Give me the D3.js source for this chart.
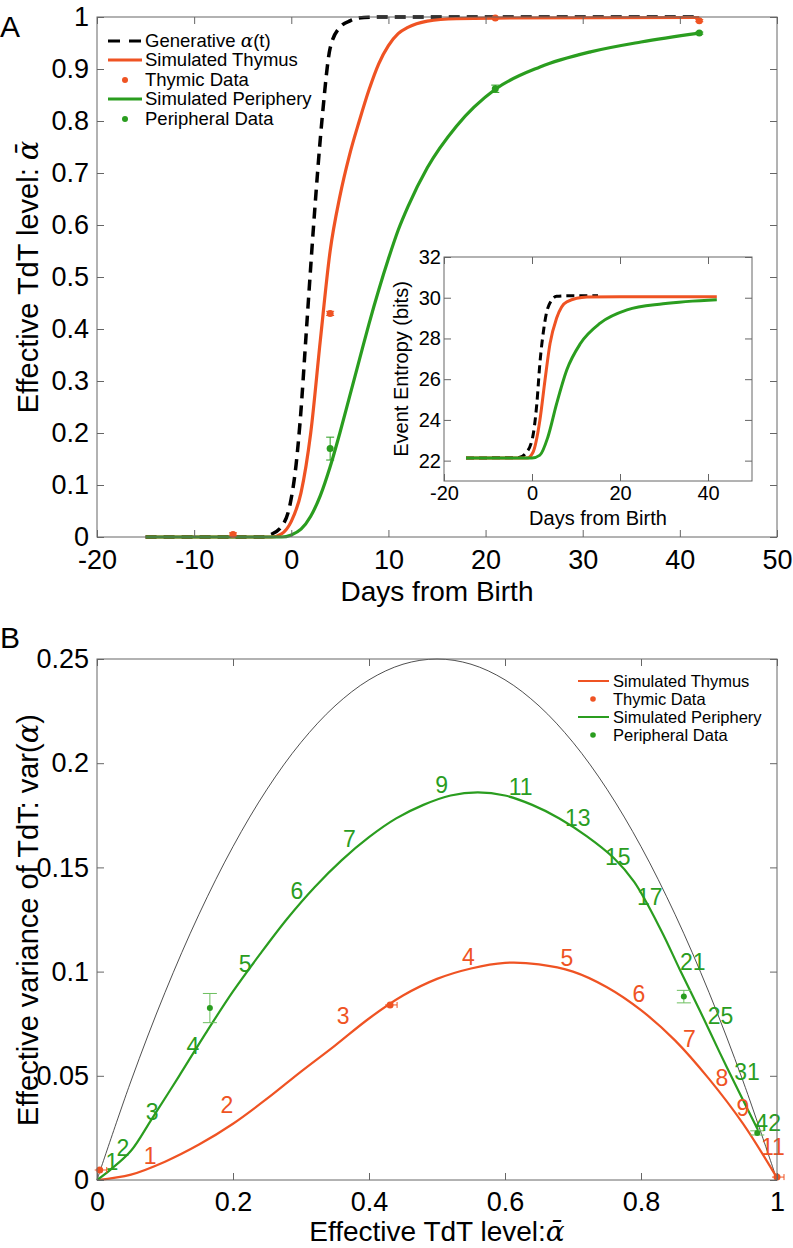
<!DOCTYPE html>
<html>
<head>
<meta charset="utf-8">
<script src="https://cdn.jsdelivr.net/npm/d3@7"></script>
<style>
body { margin: 0; background: #fff; }
text { font-family: "Liberation Sans", Arial, Helvetica, sans-serif; }
</style>
</head>
<body>
<svg id="fig" width="793" height="1248"></svg>
<script>
// ---------- panel A : TdT level vs days ----------
var genDays  = [-15, -3, -2.2, -1, -0.1, 0.5, 0.9, 1.6, 2.3, 3.2, 4.0, 5.0, 6.1, 7.5, 10, 15, 42];
var genAlpha = [0, 0, 0.004, 0.02, 0.065, 0.14, 0.22, 0.41, 0.60, 0.81, 0.94, 0.98, 0.993, 0.999, 1, 1, 1];

var thyDays  = [-15, -2, -1, 0, 1, 2, 3, 4, 5, 6, 7, 8, 9, 10, 11, 12, 14, 17, 21, 42];
var thyAlpha = [0, 0, 0.006, 0.03, 0.085, 0.2, 0.38, 0.55, 0.655, 0.735, 0.8, 0.86, 0.91, 0.945, 0.968, 0.98, 0.992, 0.997, 0.998, 0.999];

var perDays  = [-15, -1, 0, 1, 2, 3, 4, 5, 6, 7, 8, 9, 10, 11, 12, 14, 17, 21, 25.6, 30.8, 36, 42];
var perAlpha = [0, 0, 0.004, 0.015, 0.04, 0.08, 0.135, 0.2, 0.27, 0.34, 0.41, 0.475, 0.535, 0.59, 0.635, 0.71, 0.79, 0.861, 0.904, 0.933, 0.952, 0.969];

var thyDataDays  = [-6, 4, 21, 42];
var thyDataAlpha = [0.005, 0.43, 0.998, 0.993];
var thyDataErr   = [0.003, 0.004, 0.001, 0.002];
var perDataDays  = [4, 21, 42];
var perDataAlpha = [0.17, 0.862, 0.969];
var perDataErr   = [0.022, 0.007, 0.002];

// inset : event entropy (bits)
var entGenDays = [-15, -3, -1.5, 0, 1.1, 1.8, 2.7, 3.6, 5.6, 8, 15];
var entGen     = [22.13, 22.15, 22.35, 23.0, 24.8, 26.8, 28.5, 29.5, 30.07, 30.1, 30.1];
var entThyDays = [-15, -1.1, 0.2, 1.8, 2.95, 4.1, 5.6, 7.9, 12.5, 20, 42];
var entThy     = [22.13, 22.13, 22.4, 24.0, 25.95, 27.75, 29.0, 29.8, 30.03, 30.05, 30.05];
var entPerDays = [-15, 0, 1.8, 3.6, 5.6, 7.9, 11, 15.5, 21.6, 29.8, 42];
var entPer     = [22.13, 22.13, 22.27, 23.15, 24.8, 26.45, 27.75, 28.75, 29.4, 29.7, 29.9];

// ---------- panel B : variance vs TdT level ----------
var refAlpha = [0, 0.05, 0.1, 0.15, 0.2, 0.25, 0.3, 0.35, 0.4, 0.45, 0.5, 0.55, 0.6, 0.65, 0.7, 0.75, 0.8, 0.85, 0.9, 0.95, 1];
var refVar   = [0, 0.0475, 0.09, 0.1275, 0.16, 0.1875, 0.21, 0.2275, 0.24, 0.2475, 0.25, 0.2475, 0.24, 0.2275, 0.21, 0.1875, 0.16, 0.1275, 0.09, 0.0475, 0];

var thyAlphaB = [0, 0.05, 0.1, 0.15, 0.2, 0.25, 0.3, 0.35, 0.4, 0.45, 0.5, 0.55, 0.6, 0.65, 0.7, 0.75, 0.8, 0.85, 0.9, 0.95, 1.0];
var thyVarB   = [0, 0.0026, 0.0088, 0.017, 0.027, 0.039, 0.052, 0.0645, 0.0775, 0.0885, 0.0965, 0.1015, 0.1042, 0.1035, 0.1, 0.0925, 0.0815, 0.067, 0.0485, 0.027, 0.001];

var perAlphaB = [0, 0.02, 0.05, 0.08, 0.12, 0.16, 0.2, 0.24, 0.28, 0.32, 0.36, 0.4, 0.44, 0.48, 0.52, 0.56, 0.6, 0.64, 0.68, 0.72, 0.76, 0.79, 0.83, 0.857, 0.887, 0.916, 0.946, 0.972];
var perVarB   = [0, 0.005, 0.014, 0.029, 0.0495, 0.0705, 0.0905, 0.1085, 0.1255, 0.1405, 0.1535, 0.1645, 0.1735, 0.18, 0.1845, 0.186, 0.1845, 0.18, 0.1735, 0.165, 0.1545, 0.143, 0.1195, 0.101, 0.081, 0.061, 0.041, 0.024];

var thyDataAlphaB = [0.004, 0.431, 1.0];
var thyDataVarB   = [0.0048, 0.084, 0.0014];
var perDataAlphaB = [0.166, 0.863, 0.971];
var perDataVarB   = [0.0825, 0.088, 0.0226];
var perDataErrB   = [0.007, 0.003, 0.001];

// day labels along the curves (text centres)
var perLabels = ["1", "2", "3", "4", "5", "6", "7", "9", "11", "13", "15", "17", "21", "25", "31", "42"];
var perLabAlpha = [0.022, 0.038, 0.081, 0.141, 0.218, 0.294, 0.371, 0.507, 0.623, 0.707, 0.766, 0.813, 0.876, 0.917, 0.956, 0.987];
var perLabVar   = [0.0086, 0.0153, 0.0326, 0.0643, 0.104, 0.1387, 0.164, 0.1895, 0.1886, 0.174, 0.155, 0.136, 0.1046, 0.0787, 0.0518, 0.0273];
var thyLabels = ["1", "2", "3", "4", "5", "6", "7", "8", "9", "11"];
var thyLabAlpha = [0.078, 0.191, 0.362, 0.546, 0.691, 0.797, 0.871, 0.919, 0.95, 0.994];
var thyLabVar   = [0.0115, 0.036, 0.0787, 0.107, 0.1065, 0.0892, 0.0677, 0.049, 0.0346, 0.0158];

var orange = "#ef5323", green = "#2a9d1f", axisCol = "#666";

var svg = d3.select("#fig");

function fmt(d) { return String(+d.toFixed(3)); }
function zip(a, b) { return a.map(function (v, i) { return [v, b[i]]; }); }

// MATLAB-like box with inward ticks on every side
function frame(g, x, y, xt, yt, fs, padX, padY) {
    var xr = x.range(), yr = y.range();
    var bottom = g.append("g").attr("transform", "translate(0," + yr[0] + ")")
        .call(d3.axisBottom(x).tickValues(xt).tickSize(-7).tickPadding(padX).tickFormat(fmt));
    var left = g.append("g").attr("transform", "translate(" + xr[0] + ",0)")
        .call(d3.axisLeft(y).tickValues(yt).tickSize(-7).tickPadding(padY).tickFormat(fmt));
    g.append("g").attr("transform", "translate(0," + yr[1] + ")")
        .call(d3.axisTop(x).tickValues(xt).tickSize(-7).tickFormat(""));
    g.append("g").attr("transform", "translate(" + xr[1] + ",0)")
        .call(d3.axisRight(y).tickValues(yt).tickSize(-7).tickFormat(""));
    g.selectAll(".domain").remove();
    g.selectAll(".tick line").attr("stroke", axisCol);
    [bottom, left].forEach(function (a) {
        a.attr("font-size", fs).attr("font-family", "Liberation Sans, Arial, sans-serif");
        a.selectAll("text").attr("fill", "#000");
    });
    g.append("rect").attr("x", xr[0]).attr("y", yr[1])
        .attr("width", xr[1] - xr[0]).attr("height", yr[0] - yr[1])
        .attr("fill", "none").attr("stroke", axisCol).attr("stroke-width", 1);
}

// ================= panel A =================
var xA = d3.scaleLinear().domain([-20, 50]).range([97, 777]);
var yA = d3.scaleLinear().domain([0, 1]).range([537, 17]);
var gA = svg.append("g");

var lineA = d3.line().x(function (d) { return xA(d[0]); }).y(function (d) { return yA(d[1]); })
    .curve(d3.curveMonotoneX);

gA.append("path").attr("d", lineA(zip(genDays, genAlpha)))
    .attr("fill", "none").attr("stroke", "#000").attr("stroke-width", 3.5).attr("stroke-dasharray", "11,7");
gA.append("path").attr("d", lineA(zip(thyDays, thyAlpha)))
    .attr("fill", "none").attr("stroke", orange).attr("stroke-width", 3.2);
gA.append("path").attr("d", lineA(zip(perDays, perAlpha)))
    .attr("fill", "none").attr("stroke", green).attr("stroke-width", 3.2);

function errA(days, vals, errs, col) {
    days.forEach(function (t, i) {
        var cx = xA(t), y0 = yA(vals[i] - errs[i]), y1 = yA(vals[i] + errs[i]);
        gA.append("line").attr("x1", cx).attr("x2", cx).attr("y1", y0).attr("y2", y1).attr("stroke", col).attr("stroke-width", 1);
        [y0, y1].forEach(function (yy) {
            gA.append("line").attr("x1", cx - 4).attr("x2", cx + 4).attr("y1", yy).attr("y2", yy).attr("stroke", col).attr("stroke-width", 1);
        });
        gA.append("circle").attr("cx", cx).attr("cy", yA(vals[i])).attr("r", 3.5).attr("fill", col);
    });
}
errA(thyDataDays, thyDataAlpha, thyDataErr, orange);
errA(perDataDays, perDataAlpha, perDataErr, green);

frame(gA, xA, yA, d3.range(-20, 51, 10), d3.range(0, 1.01, 0.1), 27, 13, 8);

gA.append("text").attr("x", 0).attr("y", 37).attr("font-size", 30).text("A");
gA.append("text").attr("x", 437).attr("y", 601).attr("text-anchor", "middle").attr("font-size", 28).text("Days from Birth");
var yLabA = gA.append("text").attr("transform", "translate(38,277) rotate(-90)")
    .attr("text-anchor", "middle").attr("font-size", 29);
yLabA.append("tspan").text("Effective TdT level: ");
yLabA.append("tspan").attr("font-family", "DejaVu Serif, Liberation Serif, serif").attr("font-style", "italic").text("ᾱ");

// legend A
var legA = [
    {label: "Generative ", greek: true, col: "#000", type: "dash"},
    {label: "Simulated Thymus", col: orange, type: "line"},
    {label: "Thymic Data", col: orange, type: "dot"},
    {label: "Simulated Periphery", col: green, type: "line"},
    {label: "Peripheral Data", col: green, type: "dot"}
];
var legRowsA = [41, 60, 80, 99, 119];
legA.forEach(function (d, i) {
    var yy = legRowsA[i];
    if (d.type === "dot") {
        gA.append("circle").attr("cx", 125).attr("cy", yy).attr("r", 3).attr("fill", d.col);
    } else {
        gA.append("line").attr("x1", 108).attr("x2", 142).attr("y1", yy).attr("y2", yy)
            .attr("stroke", d.col).attr("stroke-width", 3)
            .attr("stroke-dasharray", d.type === "dash" ? "12,9" : null);
    }
    var t = gA.append("text").attr("x", 145).attr("y", yy).attr("dy", "0.35em").attr("font-size", 18.5);
    t.append("tspan").text(d.label);
    if (d.greek) {
        t.append("tspan").attr("font-family", "DejaVu Serif, Liberation Serif, serif").attr("font-style", "italic").text("α");
        t.append("tspan").text("(t)");
    }
});

// ---- inset ----
var xI = d3.scaleLinear().domain([-20, 50]).range([444, 752]);
var yI = d3.scaleLinear().domain([21, 32]).range([481, 257]);
var gI = svg.append("g");
gI.append("rect").attr("x", 444).attr("y", 257).attr("width", 308).attr("height", 224).attr("fill", "#fff");
var lineI = d3.line().x(function (d) { return xI(d[0]); }).y(function (d) { return yI(d[1]); })
    .curve(d3.curveMonotoneX);
gI.append("path").attr("d", lineI(zip(entGenDays, entGen)))
    .attr("fill", "none").attr("stroke", "#000").attr("stroke-width", 3).attr("stroke-dasharray", "8,5");
gI.append("path").attr("d", lineI(zip(entThyDays, entThy)))
    .attr("fill", "none").attr("stroke", orange).attr("stroke-width", 3);
gI.append("path").attr("d", lineI(zip(entPerDays, entPer)))
    .attr("fill", "none").attr("stroke", green).attr("stroke-width", 3);
frame(gI, xI, yI, [-20, 0, 20, 40], d3.range(22, 33, 2), 20, 5, 3);
gI.append("text").attr("x", 598).attr("y", 525).attr("text-anchor", "middle").attr("font-size", 20).text("Days from Birth");
gI.append("text").attr("transform", "translate(408,369) rotate(-90)").attr("text-anchor", "middle")
    .attr("font-size", 20).text("Event Entropy (bits)");

// ================= panel B =================
var xB = d3.scaleLinear().domain([0, 1]).range([97, 777]);
var yB = d3.scaleLinear().domain([0, 0.25]).range([1180, 659]);
var gB = svg.append("g");
var lineB = d3.line().x(function (d) { return xB(d[0]); }).y(function (d) { return yB(d[1]); })
    .curve(d3.curveCatmullRom.alpha(0.5));

gB.append("path").attr("d", lineB(zip(refAlpha, refVar)))
    .attr("fill", "none").attr("stroke", "#222").attr("stroke-width", 0.8);
gB.append("path").attr("d", lineB(zip(thyAlphaB, thyVarB)))
    .attr("fill", "none").attr("stroke", orange).attr("stroke-width", 2.2);
gB.append("path").attr("d", lineB(zip(perAlphaB, perVarB)))
    .attr("fill", "none").attr("stroke", green).attr("stroke-width", 2.2);

// error bars / data dots
perDataAlphaB.forEach(function (a, i) {
    var cx = xB(a), y0 = yB(perDataVarB[i] - perDataErrB[i]), y1 = yB(perDataVarB[i] + perDataErrB[i]);
    gB.append("line").attr("x1", cx).attr("x2", cx).attr("y1", y0).attr("y2", y1).attr("stroke", "#6cbf5f").attr("stroke-width", 1);
    [y0, y1].forEach(function (yy) {
        gB.append("line").attr("x1", cx - 7).attr("x2", cx + 7).attr("y1", yy).attr("y2", yy).attr("stroke", "#6cbf5f").attr("stroke-width", 1);
    });
    gB.append("circle").attr("cx", cx).attr("cy", yB(perDataVarB[i])).attr("r", 3).attr("fill", green);
});
thyDataAlphaB.forEach(function (a, i) {
    var cx = xB(a), cy = yB(thyDataVarB[i]);
    gB.append("line").attr("x1", cx - 5).attr("x2", cx + 7).attr("y1", cy).attr("y2", cy).attr("stroke", orange).attr("stroke-width", 1);
    gB.append("line").attr("x1", cx + 7).attr("x2", cx + 7).attr("y1", cy - 3).attr("y2", cy + 3).attr("stroke", orange).attr("stroke-width", 1);
    gB.append("circle").attr("cx", cx).attr("cy", cy).attr("r", 3.5).attr("fill", orange);
});

// day numbers
perLabels.forEach(function (s, i) {
    gB.append("text").attr("x", xB(perLabAlpha[i])).attr("y", yB(perLabVar[i])).attr("dy", "0.36em")
        .attr("text-anchor", "middle").attr("font-size", 23).attr("fill", green).text(s);
});
thyLabels.forEach(function (s, i) {
    gB.append("text").attr("x", xB(thyLabAlpha[i])).attr("y", yB(thyLabVar[i])).attr("dy", "0.36em")
        .attr("text-anchor", "middle").attr("font-size", 23).attr("fill", orange).text(s);
});

frame(gB, xB, yB, d3.range(0, 1.01, 0.2), d3.range(0, 0.251, 0.05), 27, 12, 8);

gB.append("text").attr("x", 0).attr("y", 648).attr("font-size", 30).text("B");
var xLabB = gB.append("text").attr("x", 437).attr("y", 1241).attr("text-anchor", "middle").attr("font-size", 28);
xLabB.append("tspan").text("Effective TdT level:");
xLabB.append("tspan").attr("font-family", "DejaVu Serif, Liberation Serif, serif").attr("font-style", "italic").text("ᾱ");
var yLabB = gB.append("text").attr("transform", "translate(38,920) rotate(-90)")
    .attr("text-anchor", "middle").attr("font-size", 29);
yLabB.append("tspan").text("Effective variance of TdT: var(");
yLabB.append("tspan").attr("font-family", "DejaVu Serif, Liberation Serif, serif").attr("font-style", "italic").text("α");
yLabB.append("tspan").text(")");

// legend B
var legB = [
    {label: "Simulated Thymus", col: orange, type: "line"},
    {label: "Thymic Data", col: orange, type: "dot"},
    {label: "Simulated Periphery", col: green, type: "line"},
    {label: "Peripheral Data", col: green, type: "dot"}
];
var legRowsB = [681, 699, 717, 735];
legB.forEach(function (d, i) {
    var yy = legRowsB[i];
    if (d.type === "dot") {
        gB.append("circle").attr("cx", 593).attr("cy", yy).attr("r", 2.8).attr("fill", d.col);
    } else {
        gB.append("line").attr("x1", 578).attr("x2", 609).attr("y1", yy).attr("y2", yy)
            .attr("stroke", d.col).attr("stroke-width", 2);
    }
    gB.append("text").attr("x", 613).attr("y", yy).attr("dy", "0.35em").attr("font-size", 16.5).text(d.label);
});
</script>
</body>
</html>
